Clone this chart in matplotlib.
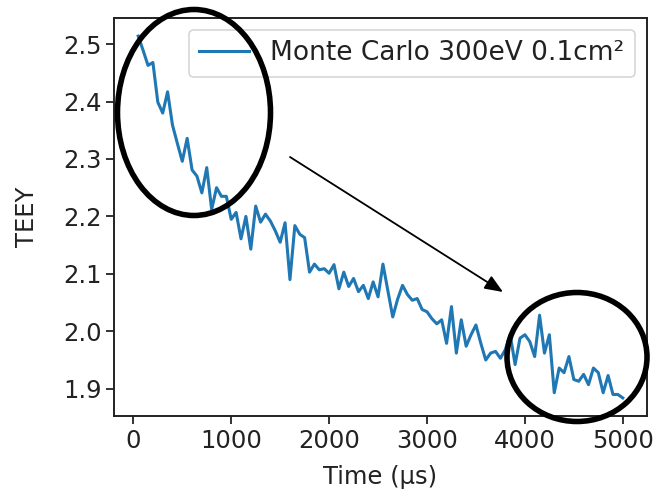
import matplotlib
matplotlib.use("Agg")
import matplotlib.pyplot as plt
from matplotlib.patches import Ellipse


# sampling times (us) and TEEY values
time_us = [
    50, 100, 150, 200, 250, 300, 350, 400, 450, 500,
    550, 600, 650, 700, 750, 800, 850, 900, 950, 1000,
    1050, 1100, 1150, 1200, 1250, 1300, 1350, 1400, 1450, 1500,
    1550, 1600, 1650, 1700, 1750, 1800, 1850, 1900, 1950, 2000,
    2050, 2100, 2150, 2200, 2250, 2300, 2350, 2400, 2450, 2500,
    2550, 2600, 2650, 2700, 2750, 2800, 2850, 2900, 2950, 3000,
    3050, 3100, 3150, 3200, 3250, 3300, 3350, 3400, 3450, 3500,
    3550, 3600, 3650, 3700, 3750, 3800, 3850, 3900, 3950, 4000,
    4050, 4100, 4150, 4200, 4250, 4300, 4350, 4400, 4450, 4500,
    4550, 4600, 4650, 4700, 4750, 4800, 4850, 4900, 4950, 5000,
]

teey = [
    2.514, 2.489, 2.463, 2.468, 2.399, 2.380, 2.417, 2.359, 2.327, 2.296,
    2.336, 2.281, 2.270, 2.241, 2.285, 2.212, 2.250, 2.235, 2.235, 2.195,
    2.207, 2.161, 2.200, 2.143, 2.218, 2.190, 2.204, 2.192, 2.175, 2.155,
    2.189, 2.090, 2.184, 2.169, 2.163, 2.103, 2.117, 2.107, 2.109, 2.101,
    2.116, 2.074, 2.103, 2.078, 2.092, 2.069, 2.080, 2.057, 2.086, 2.060,
    2.117, 2.071, 2.025, 2.056, 2.080, 2.064, 2.054, 2.057, 2.038, 2.034,
    2.022, 2.013, 2.020, 1.979, 2.043, 1.962, 2.020, 1.974, 1.994, 2.011,
    1.979, 1.950, 1.962, 1.965, 1.953, 1.968, 1.994, 1.942, 1.988, 1.994,
    1.982, 1.956, 2.028, 1.962, 1.994, 1.893, 1.936, 1.928, 1.956, 1.916,
    1.913, 1.925, 1.907, 1.936, 1.928, 1.893, 1.923, 1.890, 1.890, 1.884,
]

series_label = "Monte Carlo 300eV 0.1cm\u00b2"
x_ticks = [0, 1000, 2000, 3000, 4000, 5000]
y_ticks = [1.9, 2.0, 2.1, 2.2, 2.3, 2.4, 2.5]

W, H = 658, 495
FS = 17.5
TXT = "#222222"

fig = plt.figure(figsize=(W / 100, H / 100), dpi=100)
ax = fig.add_axes([114 / W, 1 - 416 / H, (647 - 114) / W, (416 - 18) / H])

ax.plot(time_us, teey, color="#1f77b4", lw=2.2, label=series_label)

ax.set_xticks(x_ticks)
ax.set_yticks(y_ticks)
ax.tick_params(labelsize=FS, length=5.5, width=1.3, colors=TXT)
for s in ax.spines.values():
    s.set_linewidth(1.4)
    s.set_color(TXT)

ax.set_xlabel("Time (\u00b5s)", fontsize=FS, color=TXT, labelpad=9)
ax.set_ylabel("TEEY", fontsize=FS, color=TXT, labelpad=17)

leg = ax.legend(loc="upper right", fontsize=19, handlelength=1.9,
                borderaxespad=0.45)
leg.get_frame().set_linewidth(1.2)
for t in leg.get_texts():
    t.set_color(TXT)


# hand-drawn style highlights (figure pixel positions)
def px_ellipse(cx, cy, w, h):
    e = Ellipse((cx / W, 1 - cy / H), w / W, h / H, transform=fig.transFigure,
                fill=False, edgecolor="black", lw=4.0, clip_on=False, zorder=10)
    fig.patches.append(e)


px_ellipse(194, 112.5, 153, 206)
px_ellipse(577, 357, 140, 129)

ax.annotate("", xy=(503 / W, 1 - 292 / H), xytext=(290 / W, 1 - 157 / H),
            xycoords="figure fraction", textcoords="figure fraction",
            arrowprops=dict(arrowstyle="-|>,head_length=1.1,head_width=0.45",
                            color="black", lw=1.3, shrinkA=0, shrinkB=0))

fig.savefig("out.png", dpi=100)
